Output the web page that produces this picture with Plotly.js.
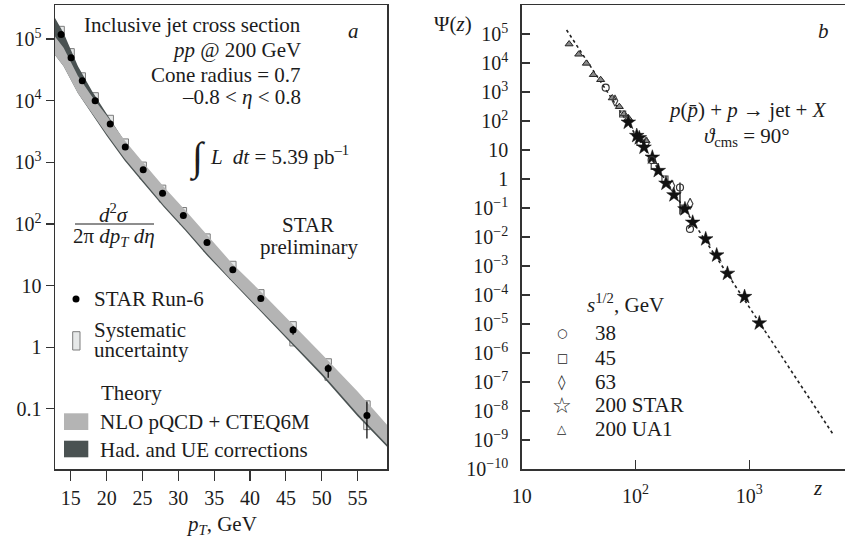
<!DOCTYPE html>
<html><head><meta charset="utf-8">
<script src="https://cdn.plot.ly/plotly-3.0.1.min.js"></script>
<style>html,body{margin:0;padding:0;background:#fff}#chart{width:845px;height:541px}</style>
</head><body><div id="chart"></div>
<script>
// ---------- Panel a: inclusive jet cross section ----------
const pT     = [13.65, 15.04, 16.6, 18.4, 20.5, 22.6, 25.1, 27.8, 30.7, 34.0, 37.6, 41.5, 46.0, 50.9, 56.3];
const sigma  = [1.19e5, 5.0e4, 2.1e4, 1.0e4, 4.2e3, 1.77e3, 760, 316, 137, 50, 18, 6.2, 1.9, 0.45, 0.078];
const sysHi  = [1.61e5, 7.0e4, 2.84e4, 1.35e4, 5.8e3, 2.4e3, 1010, 427, 185, 69, 24.8, 8.6, 2.6, 0.65, 0.135];
const sysLo  = [8.7e4, 3.55e4, 1.5e4, 7.3e3, 3.0e3, 1.27e3, 540, 228, 98, 36, 12.9, 4.4, 1.05, 0.29, 0.046];
const statHi = [1.19e5, 5.0e4, 2.1e4, 1.0e4, 4.2e3, 1.77e3, 760, 316, 137, 50, 18, 6.2, 2.2, 0.53, 0.132];
const statLo = [1.19e5, 5.0e4, 2.1e4, 1.0e4, 4.2e3, 1.77e3, 760, 316, 137, 50, 18, 6.2, 1.6, 0.32, 0.033];

const bandPT = [12.8, 14, 16, 18, 20, 22.5, 25, 28, 31, 34, 37.5, 41, 45, 50, 55, 59.1];
const nloHi  = [1.10e5, 7.24e4, 2.51e4, 1.15e4, 5.75e3, 2.29e3, 1.02e3, 398, 166, 67.6, 22.9, 9.12, 3.09, 0.776, 0.191, 0.0550];
const nloLo  = [5.5e4, 3.63e4, 1.32e4, 6.03e3, 2.88e3, 1.15e3, 513, 200, 83.2, 33.1, 12.0, 4.57, 1.51, 0.380, 0.0832, 0.0263];
const corrHi = [2.19e5, 1.26e5, 3.63e4, 1.41e4, 6.17e3, 2.2e3, 980, 380, 158, 64.5, 21.8, 8.7, 2.95, 0.74, 0.182, 0.0525];
const corrLo = [5.5e4, 3.63e4, 1.32e4, 6.03e3, 2.69e3, 1.07e3, 479, 186, 77.6, 30.9, 11.2, 4.27, 1.41, 0.347, 0.0759, 0.0243];

const aXTickVals = [15, 20, 25, 30, 35, 40, 45, 50, 55];
const aYTickVals = [0.1, 1, 10, 100, 1e3, 1e4, 1e5];
const aYTickText = ['0.1', '1', '10', '10<sup>2</sup>', '10<sup>3</sup>', '10<sup>4</sup>', '10<sup>5</sup>'];

// ---------- Panel b: z-scaling ----------
const zUA1   = [26.1, 31.7, 37.0, 42.6, 49.4, 62.5, 72.1, 79.3, 86.5, 124];
const psiUA1 = [4.5e4, 2.0e4, 9.7e3, 3.95e3, 2.65e3, 621, 311, 174, 127, 21];
const zSTAR   = [86.5, 102.6, 108, 118.9, 140.6, 158.6, 185.3, 217.8, 272, 318, 414, 517, 643, 909, 1225];
const psiSTAR = [89.5, 31.1, 26, 12.3, 5.56, 1.93, 0.705, 0.28, 0.092, 0.0318, 8.5e-3, 2.36e-3, 5.5e-4, 8.7e-5, 1.07e-5];
const z38   = [54.7, 138.6, 246, 301];
const psi38 = [1406, 4.5, 0.51, 0.019];
const err38Up = [0, 0, 0.25, 0];
const err38Dn = [0, 0, 0.45, 0];
const z45   = [77.1, 109.4, 146, 181.5, 267];
const psi45 = [174, 18.3, 2.7, 1.0, 0.1];
const z63   = [66, 125, 209, 302];
const psi63 = [500, 17.9, 0.59, 0.14];
const fitZ   = [24.8, 5546];
const fitPsi = [1.37e5, 1.41e-9];

const bXTickVals = [10, 100, 1000];
const bXTickText = ['10', '10<sup>2</sup>', '10<sup>3</sup>'];
const bYTickVals = [1e-10, 1e-9, 1e-8, 1e-7, 1e-6, 1e-5, 1e-4, 1e-3, 1e-2, 1e-1, 1, 10, 100, 1e3, 1e4, 1e5, 1e6];
const bYTickText = ['10<sup>−10</sup>', '10<sup>−9</sup>', '10<sup>−8</sup>', '10<sup>−7</sup>', '10<sup>−6</sup>',
  '10<sup>−5</sup>', '10<sup>−4</sup>', '10<sup>−3</sup>', '10<sup>−2</sup>', '10<sup>−1</sup>', '1', '10',
  '10<sup>2</sup>', '10<sup>3</sup>', '10<sup>4</sup>', '10<sup>5</sup>', '10<sup>6</sup>'];

const legendB = ['38', '45', '63', '200 STAR', '200 UA1'];

// ---------- helpers ----------
const W = 845, H = 541;
const px = v => v / W;
const py = v => 1 - v / H;
const FONT = 'Liberation Serif, Times New Roman, serif';
const INK = '#1c1c1c';
const LIGHT = '#b4b4b4', DARK = '#4a5252';

const poly = (xs, hi, lo) => ({
  x: xs.concat(xs.slice().reverse()),
  y: hi.concat(lo.slice().reverse())
});

const corrPoly = poly(bandPT, corrHi, corrLo);
const nloPoly = poly(bandPT, nloHi, nloLo);

const traces = [
  { type: 'scatter', x: corrPoly.x, y: corrPoly.y, xaxis: 'x', yaxis: 'y', fill: 'toself',
    fillcolor: DARK, line: { width: 0 }, mode: 'lines', hoverinfo: 'skip' },
  { type: 'scatter', x: nloPoly.x, y: nloPoly.y, xaxis: 'x', yaxis: 'y', fill: 'toself',
    fillcolor: LIGHT, line: { width: 0 }, mode: 'lines', hoverinfo: 'skip' },
  { type: 'bar', x: pT, y: sysHi.map((h, i) => h - sysLo[i]), base: sysLo, width: 0.9,
    xaxis: 'x', yaxis: 'y', marker: { color: '#e6e8e8', line: { color: '#7c7c7c', width: 1 } } },
  { type: 'scatter', mode: 'markers', x: pT, y: sigma, xaxis: 'x', yaxis: 'y',
    marker: { color: '#000', size: 7 },
    error_y: { type: 'data', symmetric: false, array: statHi.map((h, i) => h - sigma[i]),
      arrayminus: statLo.map((l, i) => sigma[i] - l), width: 0, thickness: 1.2, color: '#000' } },

  { type: 'scatter', mode: 'lines', x: fitZ, y: fitPsi, xaxis: 'x2', yaxis: 'y2',
    line: { color: '#222', width: 1.6, dash: '3px,3px' } },
  { type: 'scatter', mode: 'markers', x: zUA1, y: psiUA1, xaxis: 'x2', yaxis: 'y2',
    marker: { symbol: 'triangle-up', size: 7, color: '#8a8a8a', line: { color: '#222', width: 1 } } },
  { type: 'scatter', mode: 'markers', x: z45, y: psi45, xaxis: 'x2', yaxis: 'y2',
    marker: { symbol: 'square-open', size: 6, color: '#444', line: { width: 1.2 } } },
  { type: 'scatter', mode: 'markers', x: z63, y: psi63, xaxis: 'x2', yaxis: 'y2',
    marker: { symbol: 'diamond-tall-open', size: 8, color: '#444', line: { width: 1.2 } } },
  { type: 'scatter', mode: 'markers', x: zSTAR, y: psiSTAR, xaxis: 'x2', yaxis: 'y2',
    marker: { symbol: 'star', size: 11, color: '#111', line: { color: '#111', width: 0.5 } } },
  { type: 'scatter', mode: 'markers', x: z38, y: psi38, xaxis: 'x2', yaxis: 'y2',
    marker: { symbol: 'circle-open', size: 7, color: '#333', line: { width: 1.2 } },
    error_y: { type: 'data', symmetric: false, array: err38Up, arrayminus: err38Dn, width: 0, thickness: 1.3, color: '#111' } }
];

const ann = [];
const A = (text, x, y, o = {}) => ann.push(Object.assign({
  text, x: px(x), y: py(y), xref: 'paper', yref: 'paper', showarrow: false,
  xanchor: 'left', yanchor: 'middle', font: { family: FONT, size: 21, color: INK }
}, o));

// Panel a texts
A('Inclusive jet cross section', 303, 25, { xanchor: 'right' });
A('<i>pp</i> @ 200 GeV', 303, 50, { xanchor: 'right' });
A('Cone radius = 0.7', 303, 75, { xanchor: 'right' });
A('–0.8 < <i>η</i> < 0.8', 303, 97, { xanchor: 'right' });
A('<i>a</i>', 353, 31, { xanchor: 'center' });
A('∫', 197, 157, { xanchor: 'center', font: { family: FONT, size: 40, color: INK } });
A('<i>L  dt</i> = 5.39 pb<sup>–1</sup>', 208, 155);
A('<i>d</i><sup>2</sup><i>σ</i>', 114, 213, { xanchor: 'center' });
A('2π <i>dp<sub>T</sub> dη</i>', 114, 237, { xanchor: 'center' });
A('STAR', 308, 225, { xanchor: 'center' });
A('preliminary', 309, 247, { xanchor: 'center' });
A('STAR Run-6', 92, 299);
A('Systematic', 92, 330);
A('uncertainty', 92, 350);
A('Theory', 99, 393);
A('NLO pQCD + CTEQ6M', 98, 422);
A('Had. and UE corrections', 98, 450);
A('<i>p<sub>T</sub></i>, GeV', 221, 525, { xanchor: 'center' });

// Panel b texts
A('Ψ(<i>z</i>)', 453, 24, { xanchor: 'center' });
A('<i>b</i>', 823, 31, { xanchor: 'center' });
A('<i>p</i>(<i>p̄</i>) + <i>p</i> → jet + <i>X</i>', 747, 110, { xanchor: 'center' });
A('<i>ϑ</i><sub>cms</sub> = 90°', 747, 137, { xanchor: 'center' });
A('<i>s</i><sup>1/2</sup>, GeV', 585, 303);
A('<i>z</i>', 817, 488, { xanchor: 'center' });
const glyphs = ['○', '□', '◊', '☆', '△'];
const glyphSize = [12, 12, 15, 22, 12];
const rowY = [333, 358, 382, 405, 429];
legendB.forEach((t, i) => {
  A(t, 593, rowY[i]);
  A(glyphs[i], 562, rowY[i], { xanchor: 'center', font: { family: 'DejaVu Sans', size: glyphSize[i], color: INK } });
});

const shapes = [
  { type: 'circle', xref: 'paper', yref: 'paper', x0: px(72.5), x1: px(79.5), y0: py(302.5), y1: py(295.5),
    fillcolor: '#000', line: { width: 0 } },
  { type: 'rect', xref: 'paper', yref: 'paper', x0: px(72.7), x1: px(80), y0: py(350), y1: py(331.7),
    fillcolor: '#e6e8e8', line: { color: '#7c7c7c', width: 1 } },
  { type: 'rect', xref: 'paper', yref: 'paper', x0: px(64), x1: px(88.3), y0: py(430), y1: py(413.3),
    fillcolor: LIGHT, line: { width: 0 } },
  { type: 'rect', xref: 'paper', yref: 'paper', x0: px(64), x1: px(88.3), y0: py(457.3), y1: py(440.7),
    fillcolor: DARK, line: { width: 0 } },
  { type: 'line', xref: 'paper', yref: 'paper', x0: px(75), x1: px(154), y0: py(224), y1: py(224),
    line: { color: INK, width: 1 } }
];

const tickFont = { family: FONT, size: 20, color: INK };
const yTop = py(5), yBot = py(469);

const layout = {
  width: W, height: H, margin: { l: 0, r: 0, t: 0, b: 0 },
  paper_bgcolor: '#fff', plot_bgcolor: '#fff', showlegend: false,
  xaxis: { domain: [px(55), px(387)], range: [12.8, 59.1], anchor: 'y',
    tickvals: aXTickVals, ticks: 'outside', ticklen: 10, tickwidth: 1.2, tickcolor: '#333',
    showline: true, mirror: true, linecolor: '#333', linewidth: 1.5,
    showgrid: false, zeroline: false, tickfont: tickFont },
  yaxis: { domain: [yBot, yTop], type: 'log', range: [-1.976, 5.553], anchor: 'x',
    tickvals: aYTickVals, ticktext: aYTickText, ticks: 'outside', ticklen: 8, tickwidth: 1.2, tickcolor: '#333',
    showline: true, mirror: true, linecolor: '#333', linewidth: 1.5,
    showgrid: false, zeroline: false, tickfont: tickFont },
  xaxis2: { domain: [px(521.7), 1], type: 'log', range: [1, 3.841], anchor: 'y2',
    tickvals: bXTickVals, ticktext: bXTickText, ticks: 'inside', ticklen: 9, tickwidth: 1.2, tickcolor: '#333',
    ticklabelstandoff: 8,
    showline: true, mirror: true, linecolor: '#333', linewidth: 1.5,
    showgrid: false, zeroline: false, tickfont: tickFont },
  yaxis2: { domain: [yBot, yTop], type: 'log', range: [-10, 6], anchor: 'x2',
    tickvals: bYTickVals, ticktext: bYTickText, ticks: 'inside', ticklen: 8, tickwidth: 1.2, tickcolor: '#333',
    ticklabelstandoff: 8,
    showline: true, mirror: false, linecolor: '#333', linewidth: 1.5,
    showgrid: false, zeroline: false, tickfont: tickFont },
  annotations: ann,
  shapes: shapes,
  barmode: 'overlay'
};

Plotly.newPlot('chart', traces, layout, { staticPlot: true, displayModeBar: false });
</script>
</body></html>
